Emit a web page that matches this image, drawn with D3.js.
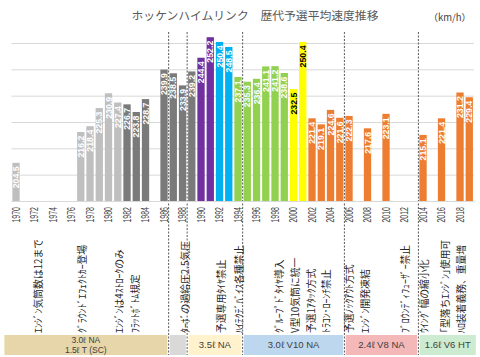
<!DOCTYPE html>
<html><head><meta charset="utf-8">
<script src="https://cdn.jsdelivr.net/npm/d3@7"></script>
<style>
html,body{margin:0;padding:0;background:#fff;}
svg{display:block;}
</style></head>
<body>
<svg id="c" width="480" height="357"></svg>
<script>
// ---- data ----
const years = [1970,1977,1978,1979,1980,1981,1982,1983,1984,1986,1987,1988,1989,1990,1991,1992,1993,1994,1995,1996,1997,1998,1999,2000,2001,2002,2003,2004,2005,2006,2008,2010,2014,2016,2018,2019];
const speeds = [204.5,216.2,218.4,225.3,230.9,227.4,226.7,223.8,228.7,239.9,238.5,233.9,239.2,244.4,252.2,250.4,248.5,237.1,235.3,236.4,241.1,241.2,238.6,232.5,250.4,221.4,219.1,224.6,221.6,222.3,217.6,223.1,215.1,221.4,231.2,229.4];
const groups = ["lg","lg","lg","lg","lg","lg","dg","dg","dg","dg","dg","dg","dg","pu","pu","bl","bl","gr","gr","gr","gr","gr","gr","ye","ye","or","or","or","or","or","or","or","or","or","or","or"];
const tickYears = d3.range(1970, 2019, 2);
const gridValues = [190,200,210,220,230,240,250];
const dividerYears = [1986.5, 1988.5, 1994.5, 2005.5, 2013.5];
const annoPos = [1972.4,1977.2,1981.2,1982.9,1988.3,1992.2,1994.2,1998.5,2000.2,2001.9,2003.6,2006.1,2007.8,2012.05,2014.2,2016.4,2018.2];
const annoText = ["ｴﾝｼﾞﾝ気筒数は12まで","ｸﾞﾗｳﾝﾄﾞｴﾌｪｸﾄｶｰ登場","ｴﾝｼﾞﾝは4ｽﾄﾛｰｸのみ","ﾌﾗｯﾄﾎﾞﾄﾑ規定","ﾀｰﾎﾞの過給圧2.5気圧","予選専用ﾀｲﾔ禁止","ﾊｲﾃｸﾃﾞﾊﾞｲｽ各種禁止","ｸﾞﾙｰﾌﾟﾄﾞﾀｲﾔ導入","V型10気筒に統一","予選1ｱﾀｯｸ方式","ﾄﾗｺﾝ･ﾛｰﾝﾁ禁止","予選ﾉｯｸｱｳﾄ方式","ｴﾝｼﾞﾝ開発凍結","ﾌﾞﾛｳﾝﾃﾞｨﾌｭｰｻﾞｰ禁止","ｳｲﾝｸﾞ幅の縮小化","｢型落ちｴﾝｼﾞﾝ｣使用可","ﾊﾛ装着義務、重量増"];
const eraStart = [1968.6, 1986.5, 1988.5, 1994.5, 2005.5, 2013.5];
const eraEnd   = [1986.5, 1988.5, 1994.5, 2005.5, 2013.5, 2019.85];
const eraLabels = [["3.0ℓ NA","1.5ℓ T (SC)"],[],["3.5ℓ NA"],["3.0ℓ V10 NA"],["2.4ℓ V8 NA"],["1.6ℓ V6 HT"]];
const eraColors = ["#e6d6aa","#d9d9d9","#fff2cc","#bdd7ee","#f5b8b8","#cdebd0"];
const barColors = {lg:"#bfbfbf", dg:"#7a7a7a", pu:"#7030a0", bl:"#00b0f0", gr:"#92d050", ye:"#ffff00", or:"#ed7d31"};
const labelColors = {ye:"#000000"};
const title = "ホッケンハイムリンク　歴代予選平均速度推移";
const unit = "（km/h）";

// ---- scales ----
const svg = d3.select("#c");
const allYears = d3.range(1970, 2020);
const x = d3.scaleBand().domain(allYears).range([11.4, 473.9]).paddingInner(0.21).paddingOuter(0.105);
const xc = d3.scaleLinear().domain([1970, 2019]).range([x(1970)+x.bandwidth()/2, x(2019)+x.bandwidth()/2]);
const y = d3.scaleLinear().domain([190, 250]).range([201, 43]);

// gridlines
const grid = svg.append("g").attr("transform","translate(11.4,0)")
  .call(d3.axisLeft(y).tickValues(gridValues).tickSize(-462.5).tickFormat(""));
grid.select(".domain").remove();
grid.selectAll("line").attr("stroke","#d9d9d9").attr("stroke-width",1);

// title
svg.append("text").attr("x",255).attr("y",20).attr("text-anchor","middle")
  .attr("font-family","'Noto Sans CJK JP'").attr("font-size",11.8).attr("fill","#595959").text(title);
svg.append("text").attr("x",471).attr("y",21).attr("text-anchor","end")
  .attr("font-family","'Noto Sans CJK JP'").attr("font-size",9.5).attr("fill","#404040").text(unit);

// dividers
svg.append("g").selectAll("line").data(dividerYears).join("line")
  .attr("x1",d=>xc(d)).attr("x2",d=>xc(d)).attr("y1",32).attr("y2",355)
  .attr("stroke","#595959").attr("stroke-width",1).attr("stroke-dasharray","2,1.5");

// bars
const data = years.map((yr,i)=>({year:yr, v:speeds[i], g:groups[i]}));
svg.append("g").selectAll("rect").data(data).join("rect")
  .attr("x",d=>x(d.year)).attr("width",x.bandwidth())
  .attr("y",d=>y(d.v)).attr("height",d=>y(190)-y(d.v))
  .attr("fill",d=>barColors[d.g]);

// value labels
svg.append("g").selectAll("text").data(data).join("text")
  .attr("transform",d=>`translate(${x(d.year)+x.bandwidth()/2},${y(d.v)+3.5}) rotate(-90)`)
  .attr("text-anchor","end").attr("dy","0.36em")
  .attr("font-family","'Liberation Sans', Arial, sans-serif").attr("font-weight","bold")
  .attr("font-size",8.8).attr("fill",d=>labelColors[d.g]||"#ffffff")
  .text(d=>d.v.toFixed(1));

// x axis
const xa = svg.append("g").attr("transform","translate(0,201)")
  .call(d3.axisBottom(x).tickValues(tickYears).tickSize(0).tickPadding(0));
xa.select(".domain").attr("stroke","#d9d9d9");
xa.selectAll("text")
  .attr("transform","translate(0,6) rotate(-90)")
  .attr("x",0).attr("y",0).attr("dy","0.35em").attr("text-anchor","end")
  .attr("font-family","'Liberation Sans', Arial, sans-serif").attr("font-size",10.5)
  .attr("textLength",15.5).attr("lengthAdjust","spacingAndGlyphs")
  .attr("fill","#404040");

// annotations
svg.append("g").selectAll("text").data(annoText).join("text")
  .attr("transform",(d,i)=>`translate(${xc(annoPos[i])},333) rotate(-90)`)
  .attr("text-anchor","start").attr("dy","0.36em")
  .attr("font-family","'Noto Sans CJK JP'").attr("font-size",9.8).attr("fill","#262626")
  .text(d=>d);

// era boxes
const eras = eraStart.map((s,i)=>({s, e:eraEnd[i], lab:eraLabels[i], c:eraColors[i]}));
const eg = svg.append("g").selectAll("g").data(eras).join("g");
eg.append("rect")
  .attr("x",d=>xc(d.s)+1.3).attr("width",d=>xc(d.e)-xc(d.s)-2.6)
  .attr("y",335).attr("height",20).attr("fill",d=>d.c);
eg.each(function(d){
  const g = d3.select(this);
  const cx = (xc(d.s)+xc(d.e))/2;
  const n = d.lab.length;
  d.lab.forEach((t,k)=>{
    const cy = n===1 ? 345 : 340 + k*10;
    g.append("text").attr("x",cx).attr("y",cy).attr("dy","0.35em").attr("text-anchor","middle")
      .attr("font-family","'Liberation Sans', Arial, sans-serif").attr("font-size",n===1?9.5:8.5).attr("fill","#404040").text(t);
  });
});
</script>
</body></html>
